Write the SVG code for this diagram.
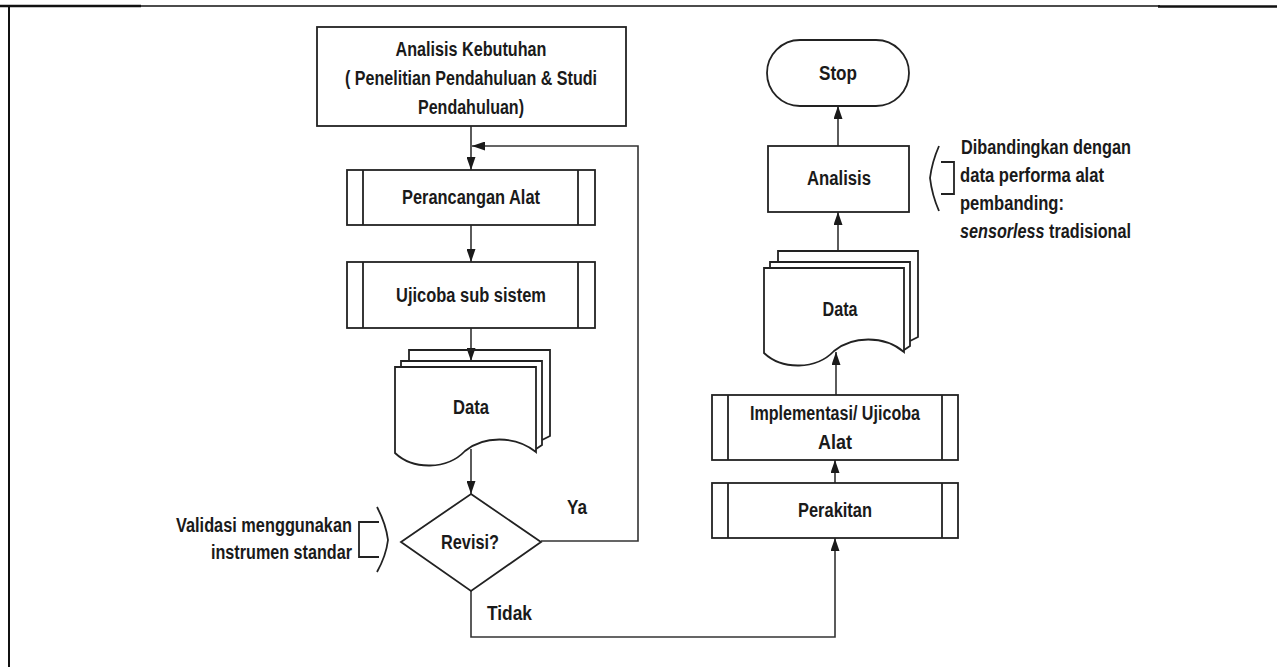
<svg xmlns="http://www.w3.org/2000/svg" width="1277" height="667" viewBox="0 0 1277 667">
<defs>
<marker id="ah" markerUnits="userSpaceOnUse" markerWidth="13" markerHeight="9" viewBox="0 0 13 9" refX="13" refY="4.5" orient="auto">
<path d="M0,0 L13,4.5 L0,9 Z" fill="#1a1a1a"/>
</marker>
<style>
.box{fill:#fff;stroke:#222;stroke-width:1.8}
.ln{fill:none;stroke:#222;stroke-width:1.8}
.con{fill:none;stroke:#333;stroke-width:1.6}
.t{font-family:"Liberation Sans",Arial,sans-serif;font-weight:bold;font-size:20px;fill:#1a1a1a}
.c{text-anchor:middle}
.r{text-anchor:end}
</style>
</defs>
<rect width="1277" height="667" fill="#fff"/>
<g id="frame">
<line x1="9" y1="6" x2="1160" y2="6" stroke="#111" stroke-width="1.5"/>
<line x1="0" y1="6" x2="141" y2="6" stroke="#111" stroke-width="2.5"/>
<line x1="1158" y1="6.5" x2="1277" y2="6.5" stroke="#111" stroke-width="2.5"/>
<line x1="9" y1="6" x2="9" y2="667" stroke="#111" stroke-width="2"/>
</g>
<g id="connectors">
<path class="con" d="M471,126 V170" marker-end="url(#ah)"/>
<path class="con" d="M541,541 H638 V146 H472" marker-end="url(#ah)"/>
<path class="con" d="M471,225 V262" marker-end="url(#ah)"/>
<path class="con" d="M471,328 V361" marker-end="url(#ah)"/>
<path class="con" d="M471,449 V494" marker-end="url(#ah)"/>
<path class="con" d="M471,591 V637 H835 V538" marker-end="url(#ah)"/>
<path class="con" d="M835,483 V460" marker-end="url(#ah)"/>
<path class="con" d="M836,395 V352" marker-end="url(#ah)"/>
<path class="con" d="M838,251 V212" marker-end="url(#ah)"/>
<path class="con" d="M838,146 V106" marker-end="url(#ah)"/>
</g>
<g id="n-analisis-kebutuhan">
<rect class="box" x="317" y="27" width="309" height="99"/>
<text class="t c" x="471" y="56" textLength="151" lengthAdjust="spacingAndGlyphs">Analisis Kebutuhan</text>
<text class="t c" x="471" y="85" textLength="252" lengthAdjust="spacingAndGlyphs">( Penelitian Pendahuluan &amp; Studi</text>
<text class="t c" x="471" y="114" textLength="106" lengthAdjust="spacingAndGlyphs">Pendahuluan)</text>
</g>
<g id="n-perancangan">
<rect class="box" x="347" y="170" width="248" height="55"/>
<path class="ln" d="M363,170 V225 M578,170 V225"/>
<text class="t c" x="471" y="204" textLength="138" lengthAdjust="spacingAndGlyphs">Perancangan Alat</text>
</g>
<g id="n-ujicoba">
<rect class="box" x="347" y="262" width="248" height="66"/>
<path class="ln" d="M363,262 V328 M578,262 V328"/>
<text class="t c" x="471" y="302" textLength="150" lengthAdjust="spacingAndGlyphs">Ujicoba sub sistem</text>
</g>
<g id="n-data1">
<path class="ln" d="M409,361 V350 H550 V436 L542,440"/>
<path class="ln" d="M401,367 V361 H542 V445 L536,449"/>
<path class="box" d="M395,367 V453 C413,470 447,470 465,451 C483,436 515,435 536,452 V367 Z"/>
<text class="t c" x="471" y="414" textLength="36" lengthAdjust="spacingAndGlyphs">Data</text>
</g>
<g id="n-revisi">
<path class="box" d="M471,494 L541,542 L471,591 L401,542 Z"/>
<text class="t c" x="470" y="549" textLength="58" lengthAdjust="spacingAndGlyphs">Revisi?</text>
</g>
<g id="n-validasi">
<path class="ln" d="M379,522 H359 V557 H379 M377,507 Q386,524 388,540 Q386,556 377,572"/>
<text class="t r" x="352" y="532" textLength="176" lengthAdjust="spacingAndGlyphs">Validasi menggunakan</text>
<text class="t r" x="352" y="559" textLength="141" lengthAdjust="spacingAndGlyphs">instrumen standar</text>
</g>
<g id="labels">
<text class="t c" x="577" y="514" textLength="20" lengthAdjust="spacingAndGlyphs">Ya</text>
<text class="t" x="487" y="620" textLength="45" lengthAdjust="spacingAndGlyphs">Tidak</text>
</g>
<g id="n-stop">
<rect class="box" x="767" y="40" width="142" height="66" rx="33" ry="33"/>
<text class="t c" x="838" y="80" textLength="38" lengthAdjust="spacingAndGlyphs">Stop</text>
</g>
<g id="n-analisis">
<rect class="box" x="768" y="146" width="141" height="66"/>
<text class="t c" x="839" y="185" textLength="64" lengthAdjust="spacingAndGlyphs">Analisis</text>
</g>
<g id="n-banding">
<path class="ln" d="M941,162 H954 V194 H941 M939,146 Q932,162 930,178 Q932,195 939,211"/>
<text class="t" x="961" y="154" textLength="170" lengthAdjust="spacingAndGlyphs">Dibandingkan dengan</text>
<text class="t" x="960" y="182" textLength="144" lengthAdjust="spacingAndGlyphs">data performa alat</text>
<text class="t" x="960" y="210" textLength="104" lengthAdjust="spacingAndGlyphs">pembanding:</text>
<text class="t" transform="matrix(0.81 0 0 1 960 238)"><tspan font-style="italic">sensorless</tspan> tradisional</text>
</g>
<g id="n-data2">
<path class="ln" d="M778,262 V251 H918 V337 L910,341"/>
<path class="ln" d="M770,268 V262 H910 V346 L904,350"/>
<path class="box" d="M764,268 V353 C782,370 816,370 834,351 C852,336 884,335 904,352 V268 Z"/>
<text class="t c" x="840" y="316" textLength="35" lengthAdjust="spacingAndGlyphs">Data</text>
</g>
<g id="n-implementasi">
<rect class="box" x="712" y="395" width="246" height="65"/>
<path class="ln" d="M728,395 V460 M942,395 V460"/>
<text class="t c" x="835" y="420" textLength="170" lengthAdjust="spacingAndGlyphs">Implementasi/ Ujicoba</text>
<text class="t c" x="835" y="449" textLength="34" lengthAdjust="spacingAndGlyphs">Alat</text>
</g>
<g id="n-perakitan">
<rect class="box" x="712" y="483" width="246" height="55"/>
<path class="ln" d="M728,483 V538 M942,483 V538"/>
<text class="t c" x="835" y="517" textLength="74" lengthAdjust="spacingAndGlyphs">Perakitan</text>
</g>
</svg>
